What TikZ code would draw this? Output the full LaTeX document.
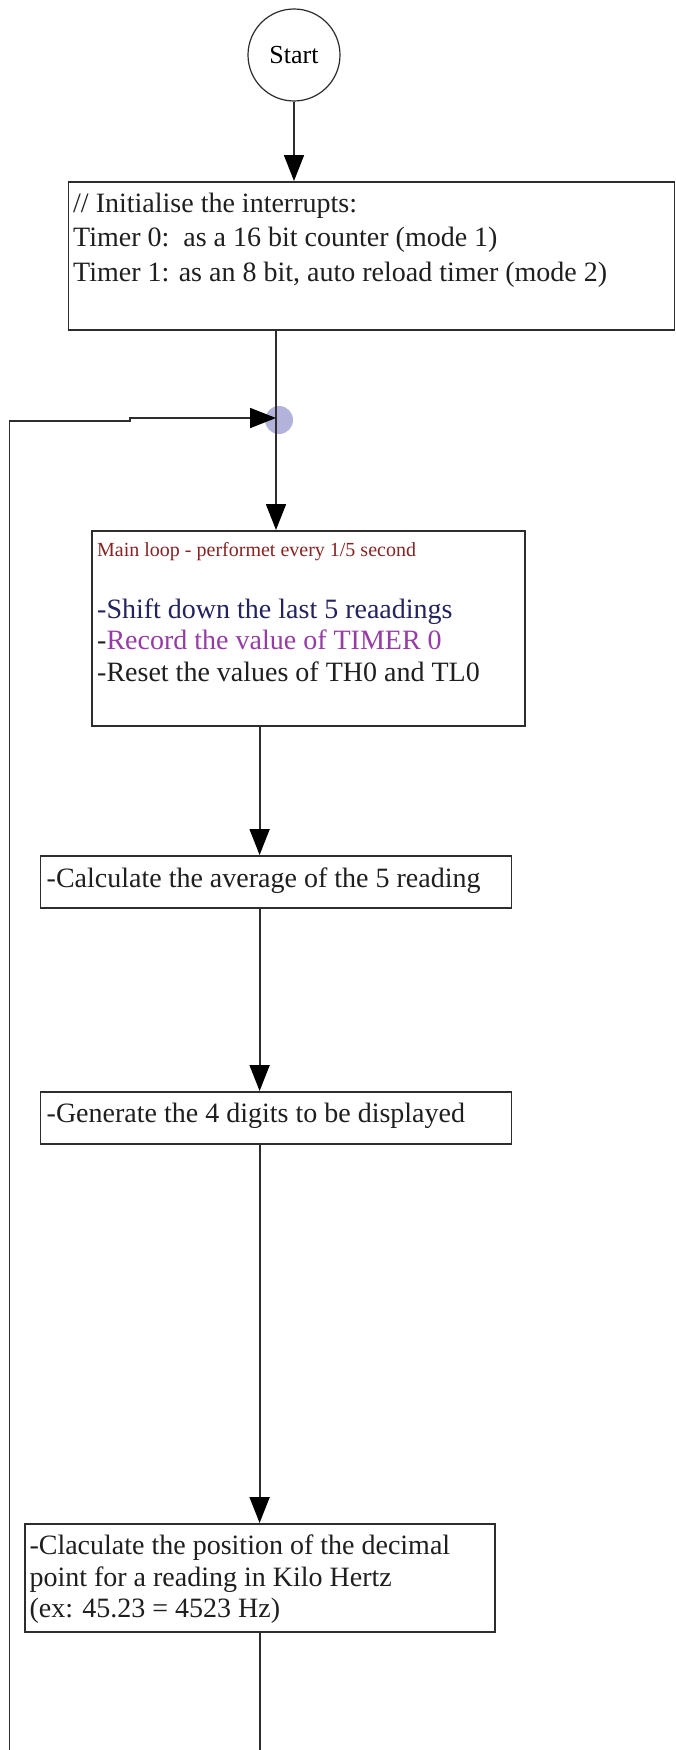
\documentclass[tikz,border=0pt]{standalone}
\usepackage{fontspec}
\setmainfont{Liberation Serif}
\usetikzlibrary{arrows.meta}
\definecolor{inkgray}{RGB}{45,45,45}
\definecolor{titlered}{RGB}{135,35,35}
\definecolor{navytext}{RGB}{35,35,95}
\definecolor{purpletext}{RGB}{150,60,165}
\definecolor{lavender}{RGB}{178,178,218}
\begin{document}
\begin{tikzpicture}[x=1pt,y=-1pt,
  box/.style={draw=inkgray,line width=1.8pt,rectangle,inner sep=0pt,anchor=north west,fill=white},
  txt/.style={anchor=base west,inner sep=0pt,text=black!88,font=\fontsize{28}{34}\selectfont},
  smalltxt/.style={anchor=base west,inner sep=0pt,text=titlered,font=\fontsize{20}{24}\selectfont},
  conn/.style={draw=inkgray,line width=1.8pt,-{Triangle[length=26pt,width=20pt,fill=black,color=black]}},
  plain/.style={draw=inkgray,line width=1.8pt}]
\useasboundingbox (0,0) rectangle (675,1750);
\fill[white] (0,0) rectangle (675,1750);

% start
\node[draw=inkgray,line width=1.2pt,circle,minimum size=92pt,inner sep=0pt,
      font=\fontsize{26}{30}\selectfont] (start) at (294,55) {Start};

% boxes
\node[box,minimum width=606pt,minimum height=148pt] (init) at (67.6,181) {};
\node[box,minimum width=433pt,minimum height=195pt] (main) at (91,530) {};
\node[box,minimum width=471pt,minimum height=52pt] (avg) at (39.6,855) {};
\node[box,minimum width=471pt,minimum height=52pt] (gen) at (39.6,1091) {};
\node[box,minimum width=470pt,minimum height=108pt] (dec) at (23.7,1523) {};

% junction
\node[circle,fill=lavender,minimum size=28pt,inner sep=0pt] (j) at (279,420) {};
\coordinate (jc) at (276,418);
\coordinate (col) at (259.6,0);
\coordinate (bottomend) at (259.6,1752);
\coordinate (loopstart) at (9.5,1752);
\coordinate (loopbend) at (9.5,421);
\coordinate (loopstep) at (130,421);

% texts
\node[txt] (i1) at (73,212) {// Initialise the interrupts:};
\node[txt] (i2) at (73,246) {Timer 0:\ \ as a 16 bit counter (mode 1)};
\node[txt] (i3) at (73,281) {Timer 1: as an 8 bit, auto reload timer (mode 2)};

\node[smalltxt] (m0) at (97,556) {Main loop - performet every 1/5 second};
\node[txt,text=navytext] (m1) at (97,618) {-Shift down the last 5 reaadings};
\node[txt] (m2) at (97,649.5) {-\textcolor{purpletext}{Record the value of TIMER 0}};
\node[txt] (m3) at (97,681) {-Reset the values of TH0 and TL0};

\node[txt] (a1) at (46.5,887) {-Calculate the average of the 5 reading};
\node[txt] (g1) at (46.5,1122) {-Generate the 4 digits to be displayed};

\node[txt] (d1) at (29.3,1554) {-Claculate the position of the decimal};
\node[txt] (d2) at (29.3,1586) {point for a reading in Kilo Hertz};
\node[txt] (d3) at (29.3,1617) {(ex: 45.23 = 4523 Hz)};

% connectors
\draw[conn] (start.south) -- (start.south |- init.north);
\draw[plain] (init.south -| jc) -- (jc);
\draw[conn] (jc) -- (main.north -| jc);
\draw[conn] (loopstart) -- (loopbend) -- (loopstep) -- (loopstep |- jc) -- (jc);
\draw[conn] (main.south -| col) -- (avg.north -| col);
\draw[conn] (avg.south -| col) -- (gen.north -| col);
\draw[conn] (gen.south -| col) -- (dec.north -| col);
\draw[plain] (dec.south -| col) -- (bottomend);
\end{tikzpicture}
\end{document}
